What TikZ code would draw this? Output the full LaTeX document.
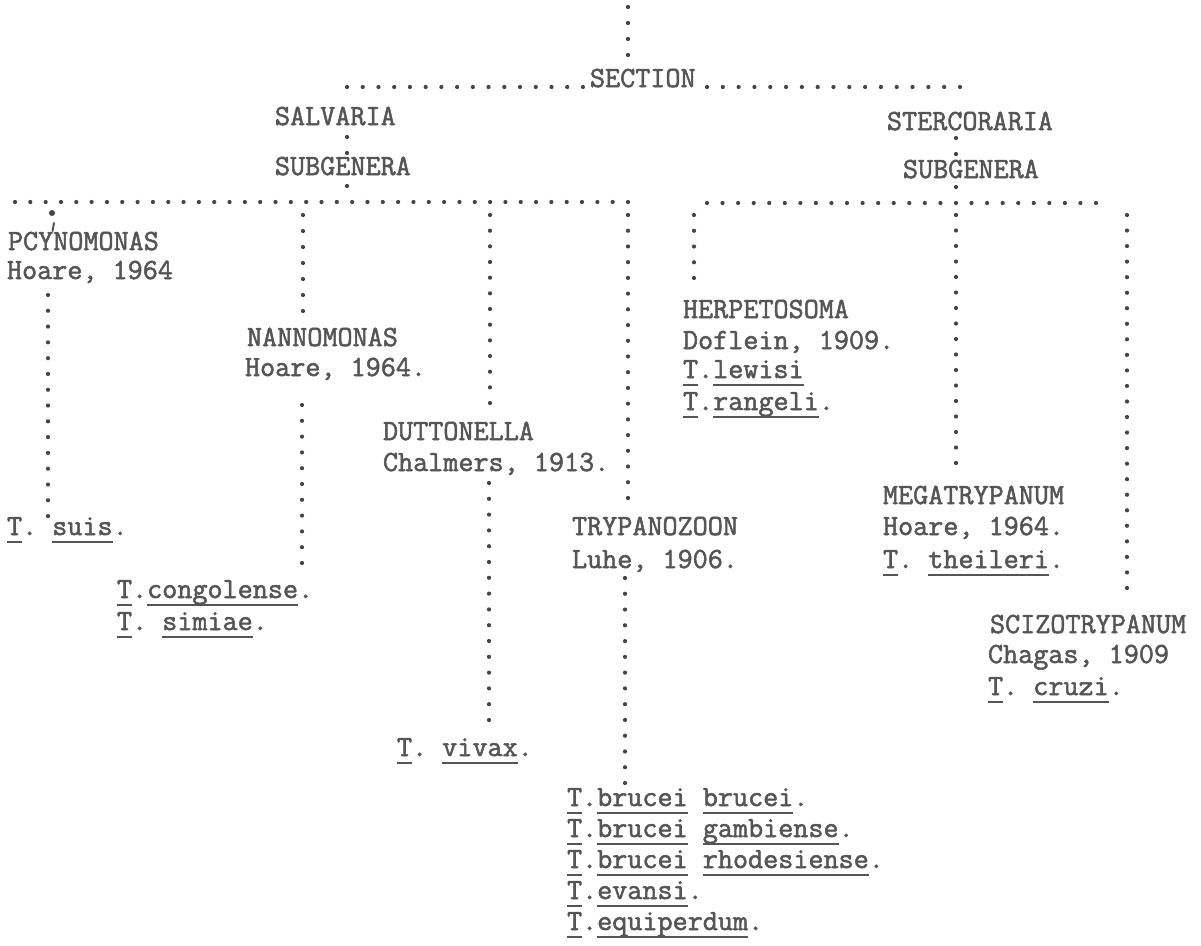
\documentclass[tikz,border=0pt]{standalone}
\usepackage{fontspec}
\usetikzlibrary{decorations.markings}
\newfontfamily\typew{Latin Modern Mono}[FakeBold=1.8]
\definecolor{ink}{HTML}{555555}
\definecolor{dotink}{HTML}{454545}
\newcommand\ul[1]{\setbox0\hbox{#1}\rlap{\rule[-7.5pt]{\wd0}{1.5pt}}\box0\relax}
\begin{document}
\begin{tikzpicture}[x=1pt,y=-1pt,
  lbl/.style={anchor=base west,inner sep=0pt,outer sep=0pt,text=ink,
    font=\typew\fontsize{29.3}{31}\selectfont\frenchspacing},
  dotrow/.style={decorate,decoration={markings,
      mark=between positions 0 and 1 step #1 with {\fill[dotink] (0,0) circle (2.1pt);}}},
  onedot/.style={fill=dotink}]
\useasboundingbox[fill=white] (0,0) rectangle (1201,945);

% ---------- coordinates of the dotted connectors ----------
\coordinate (top1) at (628,7);     \coordinate (top2) at (628,55.5);
\coordinate (secL1) at (347,87);   \coordinate (secL2) at (583.5,87);
\coordinate (secR1) at (707,87);   \coordinate (secR2) at (960.5,87);
\coordinate (salA) at (347,137);   \coordinate (salB) at (347,153.5);
\coordinate (salC) at (347,186);
\coordinate (stA) at (956,138);    \coordinate (stB) at (956,154.5);
\coordinate (stC) at (956,187);
\coordinate (hl1) at (15,202);     \coordinate (hl2) at (628.5,202);
\coordinate (hr1) at (707,203);    \coordinate (hr2) at (1096.5,203);
\coordinate (p1) at (48,295);      \coordinate (p2) at (48,516.5);
\coordinate (n1) at (303,215);     \coordinate (n2) at (303,311.5);
\coordinate (n3) at (302,405);     \coordinate (n4) at (302,563.5);
\coordinate (d1) at (490,215);     \coordinate (d2) at (490,403.5);
\coordinate (d3) at (489,483);     \coordinate (d4) at (489,720.5);
\coordinate (t1) at (628,215);     \coordinate (t2) at (628,498.5);
\coordinate (t3) at (625,578);     \coordinate (t4) at (625,783.5);
\coordinate (h1) at (694,215);     \coordinate (h2) at (694,278.5);
\coordinate (m1) at (956,215);     \coordinate (m2) at (956,463.5);
\coordinate (s1) at (1127,215);    \coordinate (s2) at (1127,588.5);
\coordinate (blob) at (52,213);
\coordinate (tickA) at (54,223);   \coordinate (tickB) at (52.5,231);

% ---------- dotted connectors ----------
\path[dotrow=16pt] (top1) -- (top2);
\path[dotrow=15.73pt] (secL1) -- (secL2);
\path[dotrow=15.81pt] (secR1) -- (secR2);
\path[dotrow=16pt] (salA) -- (salB);
\fill[onedot] (salC) circle (2.1pt);
\path[dotrow=16pt] (stA) -- (stB);
\fill[onedot] (stC) circle (2.1pt);
\path[dotrow=15.325pt] (hl1) -- (hl2);
\path[dotrow=15.56pt] (hr1) -- (hr2);
\path[dotrow=15.79pt] (p1) -- (p2);
\path[dotrow=16pt] (n1) -- (n2);
\path[dotrow=15.8pt] (n3) -- (n4);
\path[dotrow=15.67pt] (d1) -- (d2);
\path[dotrow=15.8pt] (d3) -- (d4);
\path[dotrow=15.72pt] (t1) -- (t2);
\path[dotrow=15.77pt] (t3) -- (t4);
\path[dotrow=15.75pt] (h1) -- (h2);
\path[dotrow=15.5pt] (m1) -- (m2);
\path[dotrow=15.54pt] (s1) -- (s2);
\fill[onedot] (blob) circle (3pt);
\draw[draw=ink,line width=2pt,line cap=round] (tickA) -- (tickB);

% ---------- labels ----------
\node[lbl] (section) at (590,87) {SECTION};
\node[lbl] (salvaria) at (275,125) {SALVARIA};
\node[lbl] (subgL) at (275,175) {SUBGENERA};
\node[lbl] (sterc) at (887,130) {STERCORARIA};
\node[lbl] (subgR) at (903,178) {SUBGENERA};

\node[lbl] (pcy) at (8,250) {PCYNOMONAS};
\node[lbl] (pcyA) at (7,279) {Hoare, 1964};
\node[lbl] (suis) at (7,535) {\ul{T}. \ul{suis}.};

\node[lbl] (nanno) at (247,346) {NANNOMONAS};
\node[lbl] (nannoA) at (245,376) {Hoare, 1964.};
\node[lbl] (cong) at (117,598) {\ul{T}.\ul{congolense}.};
\node[lbl] (simiae) at (117,630) {\ul{T}. \ul{simiae}.};

\node[lbl] (dutt) at (383,440) {DUTTONELLA};
\node[lbl] (duttA) at (383,471) {Chalmers, 1913.};
\node[lbl] (vivax) at (397,756) {\ul{T}. \ul{vivax}.};

\node[lbl] (tryp) at (572,535) {TRYPANOZOON};
\node[lbl] (trypA) at (572,568) {Luhe, 1906.};
\node[lbl] (bb) at (567,806) {\ul{T}.\ul{brucei} \ul{brucei}.};
\node[lbl] (bg) at (567,837) {\ul{T}.\ul{brucei} \ul{gambiense}.};
\node[lbl] (br) at (567,868) {\ul{T}.\ul{brucei} \ul{rhodesiense}.};
\node[lbl] (ev) at (567,899) {\ul{T}.\ul{evansi}.};
\node[lbl] (eq) at (567,930) {\ul{T}.\ul{equiperdum}.};

\node[lbl] (herp) at (683,318) {HERPETOSOMA};
\node[lbl] (herpA) at (683,349) {Doflein, 1909.};
\node[lbl] (lewisi) at (683,378) {\ul{T}.\ul{lewisi}};
\node[lbl] (rangeli) at (683,410) {\ul{T}.\ul{rangeli}.};

\node[lbl] (mega) at (883,504) {MEGATRYPANUM};
\node[lbl] (megaA) at (883,535) {Hoare, 1964.};
\node[lbl] (theileri) at (883,568) {\ul{T}. \ul{theileri}.};

\node[lbl] (scizo) at (990,633) {SCIZOTRYPANUM};
\node[lbl] (scizoA) at (988,663) {Chagas, 1909};
\node[lbl] (cruzi) at (988,695) {\ul{T}. \ul{cruzi}.};
\end{tikzpicture}
\end{document}
